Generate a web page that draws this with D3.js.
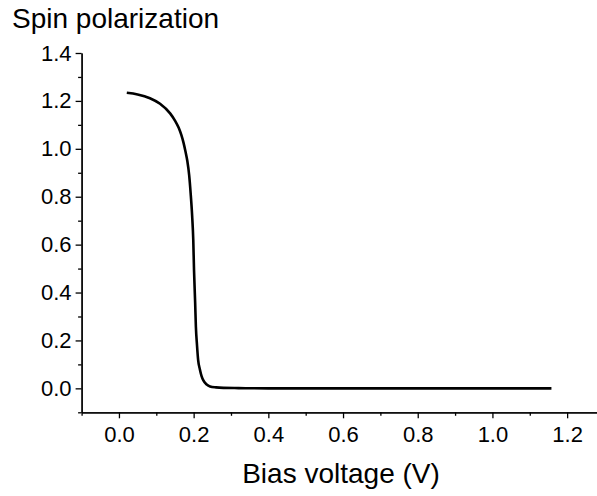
<!DOCTYPE html>
<html>
<head>
<meta charset="utf-8">
<script src="https://cdn.jsdelivr.net/npm/d3@7"></script>
<style>
  body { margin: 0; background: #fff; }
  text { font-family: "Liberation Sans", Arial, sans-serif; fill: #000; }
</style>
</head>
<body>
<div id="chart"></div>
<script>
// bias voltage (V) and spin polarization
const biasV = [0.021, 0.05, 0.083, 0.11, 0.137, 0.15, 0.16, 0.167, 0.173, 0.178, 0.183, 0.188, 0.192, 0.196, 0.199, 0.201, 0.204, 0.206, 0.209, 0.212, 0.2166, 0.221, 0.226, 0.235, 0.244, 0.26, 0.28, 0.32, 0.4, 0.6, 0.8, 1.0, 1.158];
const spinPol = [1.234, 1.227, 1.211, 1.188, 1.148, 1.118, 1.088, 1.058, 1.025, 0.99, 0.95, 0.89, 0.814, 0.72, 0.619, 0.494, 0.36, 0.257, 0.18, 0.119, 0.08, 0.052, 0.033, 0.016, 0.008, 0.004, 0.002, 0.001, 0, 0, 0, 0, 0];

const xMajor = [0, 0.2, 0.4, 0.6, 0.8, 1.0, 1.2];
const xMinor = [-0.1, 0.1, 0.3, 0.5, 0.7, 0.9, 1.1];
const yMajor = [0, 0.2, 0.4, 0.6, 0.8, 1.0, 1.2, 1.4];
const yMinor = [-0.1, 0.1, 0.3, 0.5, 0.7, 0.9, 1.1, 1.3];

const width = 597, height = 496;

const svg = d3.select("#chart").append("svg")
    .attr("width", width)
    .attr("height", height);

const x = d3.scaleLinear().domain([-0.1, 1.28]).range([81.6, 597]);
const y = d3.scaleLinear().domain([-0.1, 1.4]).range([412.3, 53]);

const fmt = d3.format(".1f");

// x axis
const gx = svg.append("g").attr("transform", `translate(0,${y(-0.1)})`);
gx.call(d3.axisBottom(x).tickValues(xMajor).tickFormat(fmt).tickSize(6).tickSizeOuter(0).tickPadding(8));
svg.append("g").attr("transform", `translate(0,${y(-0.1)})`)
    .call(d3.axisBottom(x).tickValues(xMinor).tickFormat("").tickSize(3.5).tickSizeOuter(0));

// y axis
const gy = svg.append("g").attr("transform", `translate(${x(-0.1)},0)`);
gy.call(d3.axisLeft(y).tickValues(yMajor).tickFormat(fmt).tickSize(6).tickSizeOuter(0).tickPadding(4));
svg.append("g").attr("transform", `translate(${x(-0.1)},0)`)
    .call(d3.axisLeft(y).tickValues(yMinor).tickFormat("").tickSize(3.5).tickSizeOuter(0));

svg.selectAll(".domain, .tick line").attr("stroke", "#000").attr("stroke-width", 1.3);
svg.selectAll(".tick text")
    .style("font-family", "'Liberation Sans', Arial, sans-serif")
    .style("font-size", "22px")
    .attr("fill", "#000");

// curve
const pts = biasV.map((v, i) => [v, spinPol[i]]);
svg.append("path")
    .datum(pts)
    .attr("fill", "none")
    .attr("stroke", "#000")
    .attr("stroke-width", 2.6)
    .attr("stroke-linejoin", "round")
    .attr("d", d3.line().x(d => x(d[0])).y(d => y(d[1])).curve(d3.curveMonotoneX));

// titles
svg.append("text")
    .attr("x", 12)
    .attr("y", 28)
    .style("font-size", "28px")
    .text("Spin polarization");

svg.append("text")
    .attr("x", 341)
    .attr("y", 483)
    .attr("text-anchor", "middle")
    .style("font-size", "28px")
    .text("Bias voltage (V)");
</script>
</body>
</html>
